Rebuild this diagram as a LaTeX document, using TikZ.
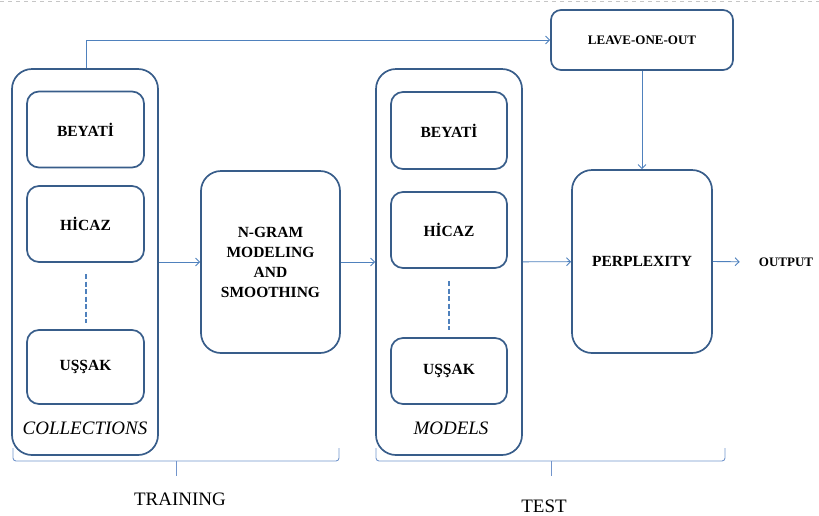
\documentclass[tikz,border=0pt]{standalone}
\usepackage{fontspec}
\setmainfont{Liberation Serif}
\usetikzlibrary{arrows.meta}
\definecolor{boxblue}{HTML}{385D8A}
\definecolor{linkblue}{HTML}{4F81BD}
\definecolor{braceblue}{HTML}{7295CC}
\tikzset{
  outerbox/.style={draw=boxblue, line width=1.7pt, rounded corners=20pt, inner sep=0pt},
  innerbox/.style={draw=boxblue, line width=1.7pt, rounded corners=12pt, inner sep=0pt,
    font=\fontsize{15.5}{20}\selectfont\bfseries, align=center},
  bigbox/.style={draw=boxblue, line width=1.7pt, rounded corners=20pt, inner sep=0pt,
    font=\fontsize{15.5}{20}\selectfont\bfseries, align=center},
  smalltext/.style={font=\fontsize{13}{16}\selectfont\bfseries, inner sep=0pt},
  grouplabel/.style={font=\fontsize{19}{22}\selectfont\itshape, inner sep=0pt},
  phaselabel/.style={font=\fontsize{19}{22}\selectfont, inner sep=0pt},
  link/.style={draw=linkblue, line width=0.9pt, -{Straight Barb[length=4pt,width=8pt]}},
  ellipsis/.style={draw=linkblue, line width=2.6pt, dash pattern=on 5pt off 2.5pt},
  bracket/.style={draw=braceblue, line width=0.9pt, rounded corners=3pt}
}
\begin{document}
\begin{tikzpicture}[x=1pt,y=-1pt]
\useasboundingbox (0,0) rectangle (819,515);
\draw[gray!45, line width=0.8pt, dash pattern=on 4pt off 4pt] (0,1.5) -- (819,1.5);

% Collections
\node[outerbox, minimum width=146pt, minimum height=386pt] (coll) at (85,262) {};
\node[innerbox, minimum width=117pt, minimum height=76pt] (cb) at (85.5,129.5) {BEYATİ};
\node[innerbox, minimum width=117pt, minimum height=76pt] (ch) at (85.5,224) {HİCAZ};
\node[innerbox, minimum width=117pt, minimum height=74pt] (cu) at (85.5,367) {UŞŞAK};
\coordinate (cd1) at (86,274);
\coordinate (cd2) at (86,323);
\draw[ellipsis] (cd1) -- (cd2);
\node[grouplabel] (cl) at (85,428) {COLLECTIONS};

% N-gram
\node[bigbox, minimum width=139pt, minimum height=182pt] (ng) at (270.5,262) {N-GRAM\\MODELING\\AND\\SMOOTHING};

% Models
\node[outerbox, minimum width=146pt, minimum height=386pt] (mod) at (449,262) {};
\node[innerbox, minimum width=116pt, minimum height=77pt] (mb) at (449,130.5) {BEYATİ};
\node[innerbox, minimum width=116pt, minimum height=76pt] (mh) at (449,230) {HİCAZ};
\node[innerbox, minimum width=116pt, minimum height=66pt] (mu) at (449,371) {UŞŞAK};
\coordinate (md1) at (449,281);
\coordinate (md2) at (449,330);
\draw[ellipsis] (md1) -- (md2);
\node[grouplabel] (ml) at (451,428) {MODELS};

% Leave-one-out and perplexity
\node[draw=boxblue, line width=1.7pt, rounded corners=10pt, minimum width=182pt, minimum height=60pt, smalltext] (loo) at (642,40) {LEAVE-ONE-OUT};
\node[bigbox, minimum width=140pt, minimum height=183pt] (perp) at (642,261.5) {PERPLEXITY};
\node[smalltext] (out) at (786,262) {OUTPUT};

% Connectors
\draw[link] (coll) -- (ng);
\draw[link] (ng) -- (mod);
\draw[link] (mod) -- (perp);
\draw[link, shorten >=19pt] (perp.east) -- (out.west);
\draw[link] ([xshift=1pt]coll.north) |- (loo.west);
\draw[link] (loo.south) -- (perp.north);

% Brackets
\coordinate (tb) at (176,476);
\coordinate (sb) at (551,476);
\draw[bracket] (13,448) -- (13,461) -- (176,461) -- (339,461) -- (339,448);
\draw[bracket] (176,461) -- (tb);
\draw[bracket] (376,448) -- (376,461) -- (551,461) -- (725,461) -- (725,448);
\draw[bracket] (551,461) -- (sb);
\node[phaselabel] (tr) at (180,499) {TRAINING};
\node[phaselabel] (te) at (544,506) {TEST};
\end{tikzpicture}
\end{document}
